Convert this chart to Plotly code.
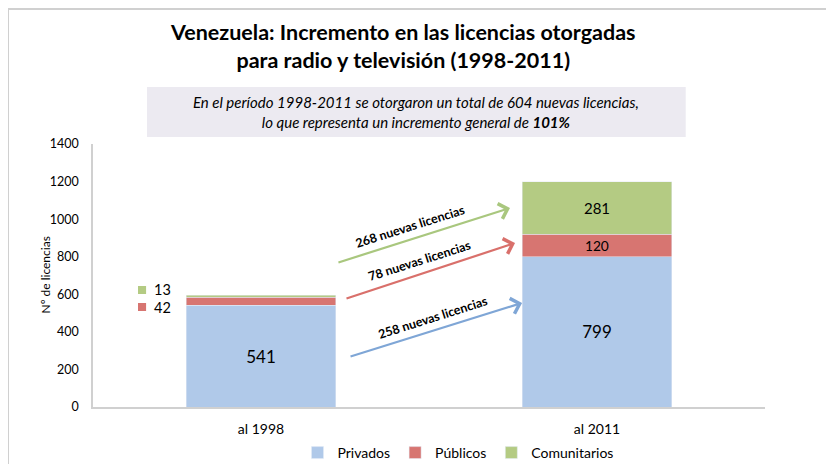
import plotly.graph_objects as go

categories = ["al 1998", "al 2011"]
privados = [541, 799]
publicos = [42, 120]
comunitarios = [13, 281]
y_ticks = [0, 200, 400, 600, 800, 1000, 1200, 1400]

C_BLUE = "#B0C9E9"
C_RED = "#D77571"
C_GREEN = "#B4CB83"
A_BLUE = "#7FA6D6"
A_RED = "#D9706B"
A_GREEN = "#A9C77E"
FONT = "Lato"

fig = go.Figure()
fig.add_trace(go.Bar(
    x=categories, y=privados, name="Privados", marker_color=C_BLUE,
    text=[str(v) for v in privados], textposition="inside",
    insidetextanchor="middle", textfont=dict(size=17, color="black", family=FONT),
    width=0.446))
fig.add_trace(go.Bar(
    x=categories, y=publicos, name="Públicos", marker_color=C_RED,
    text=["", str(publicos[1])], textposition="inside",
    insidetextanchor="middle", textfont=dict(size=15, color="black", family=FONT),
    width=0.446))
fig.add_trace(go.Bar(
    x=categories, y=comunitarios, name="Comunitarios", marker_color=C_GREEN,
    text=["", str(comunitarios[1])], textposition="inside",
    insidetextanchor="middle", textfont=dict(size=15, color="black", family=FONT),
    width=0.446))

total0 = privados[0] + publicos[0] + comunitarios[0]
total1 = privados[1] + publicos[1] + comunitarios[1]
nuevas = total1 - total0
pct = round(100 * nuevas / total0)

annotations = []
# title
annotations.append(dict(
    xref="paper", yref="paper", x=0.461, y=1.373, xanchor="center", yanchor="middle",
    text="<b>Venezuela: Incremento en las licencias otorgadas<br>para radio y televisión (1998-2011)</b>",
    showarrow=False, font=dict(size=21.5, family=FONT, color="black")))
# subtitle
annotations.append(dict(
    xref="paper", yref="paper", x=0.481, y=1.122, xanchor="center", yanchor="middle",
    text=f"<i>En el período 1998-2011 se otorgaron un total de {nuevas} nuevas licencias,<br>"
         f"lo que representa un incremento general de <b>{pct}%</b></i>",
    showarrow=False, font=dict(size=15, family=FONT, color="black")))
# y axis title
annotations.append(dict(xref="paper", yref="paper", x=(45 - 93) / 672, y=0.5,
                        xanchor="center", yanchor="middle", textangle=-90,
                        text="Nº de licencias", showarrow=False,
                        font=dict(size=12, family=FONT, color="black")))
# side labels for 1998
annotations.append(dict(xref="paper", yref="paper", x=0.088, y=(407 - 289) / 263,
                        xanchor="left", yanchor="middle", text=str(comunitarios[0]),
                        showarrow=False, font=dict(size=14.5, family=FONT, color="black")))
annotations.append(dict(xref="paper", yref="paper", x=0.088, y=(407 - 307) / 263,
                        xanchor="left", yanchor="middle", text=str(publicos[0]),
                        showarrow=False, font=dict(size=14.5, family=FONT, color="black")))

# arrows (head x,y ; tail ax,ay) in data coords
arrows = [
    (0.741, 1059, 0.226, 767, A_GREEN, 0.443, 963, comunitarios),
    (0.756, 873, 0.250, 575, A_RED, 0.473, 782, publicos),
    (0.777, 554, 0.262, 266, A_BLUE, 0.512, 474, privados),
]
for hx, hy, tx, ty, col, lx, ly, series in arrows:
    annotations.append(dict(x=hx, y=hy, ax=tx, ay=ty, xref="x", yref="y",
                            axref="x", ayref="y", text="", showarrow=True,
                            arrowhead=4, arrowsize=1.4, arrowwidth=2.2, arrowcolor=col))
    annotations.append(dict(x=lx, y=ly, xref="x", yref="y", showarrow=False,
                            text=f"<b>{series[1] - series[0]} nuevas licencias</b>",
                            textangle=-17.6, font=dict(size=12.5, family=FONT, color="black")))

shapes = [
    # subtitle box
    dict(type="rect", xref="paper", yref="paper", x0=0.0804, x1=0.882, y0=1.027, y1=1.217,
         fillcolor="#ECEAF1", line=dict(width=0), layer="below"),
    # legend-like squares for side labels
    dict(type="rect", xref="paper", yref="paper", x0=0.067, x1=0.079,
         y0=(407 - 294) / 263, y1=(407 - 286) / 263, fillcolor=C_GREEN, line=dict(width=0)),
    dict(type="rect", xref="paper", yref="paper", x0=0.067, x1=0.079,
         y0=(407 - 311) / 263, y1=(407 - 303) / 263, fillcolor=C_RED, line=dict(width=0)),
    # chart border (top and left)
    dict(type="line", xref="paper", yref="paper", x0=-0.1265, x1=1.2, y0=1.513, y1=1.513,
         line=dict(color="#D0D0D0", width=2)),
    dict(type="line", xref="paper", yref="paper", x0=-0.1265, x1=-0.1265, y0=1.513, y1=-0.3,
         line=dict(color="#D0D0D0", width=2)),
]

fig.update_layout(
    barmode="stack",
    width=834, height=464,
    margin=dict(l=85, r=77, t=136, b=65, autoexpand=False),
    paper_bgcolor="white", plot_bgcolor="white",
    font=dict(family=FONT, color="black"),
    showlegend=True,
    legend=dict(orientation="h", xref="container", yref="container",
                x=450 / 834, xanchor="center", y=1 - 445 / 464, yanchor="middle",
                font=dict(size=14, family=FONT), traceorder="normal"),
    annotations=annotations,
    shapes=shapes,
)
fig.update_xaxes(showline=True, linecolor="#D0D0D0", linewidth=1.5, showgrid=False,
                 tickfont=dict(size=14), ticks="", range=[-0.5, 1.5],
                 ticklabelstandoff=8, automargin=False)
fig.update_yaxes(range=[0, 1400], tickvals=y_ticks, showline=True, linecolor="#D0D0D0",
                 linewidth=1.5, showgrid=False, zeroline=False, ticks="",
                 tickfont=dict(size=12.5), ticklabelstandoff=10, automargin=False)

fig.write_html("out.html")
